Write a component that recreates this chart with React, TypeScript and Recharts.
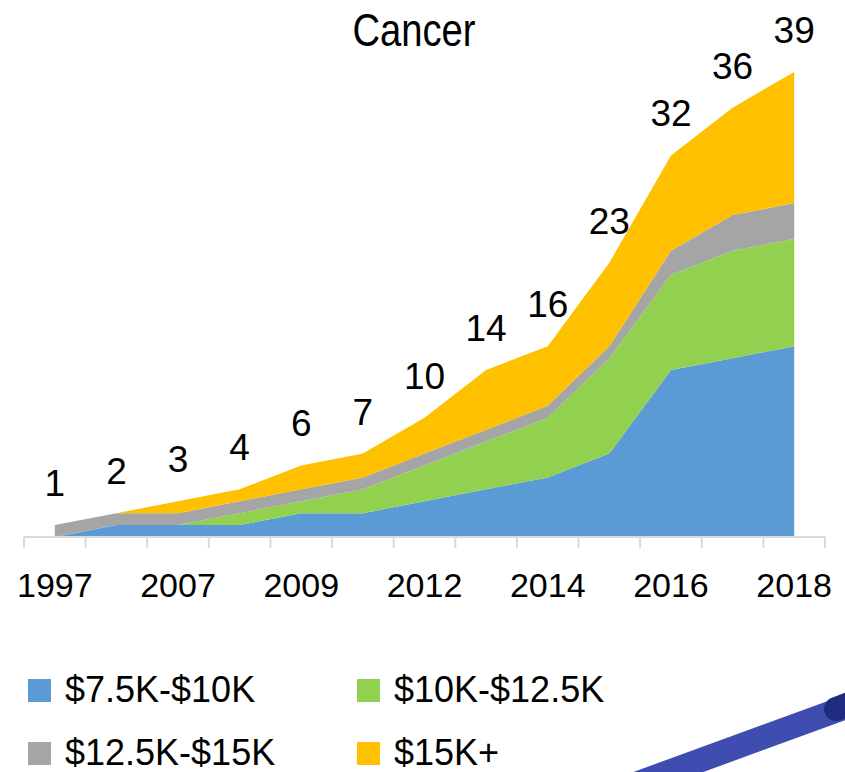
import React from 'react';
import { AreaChart, Area, XAxis, YAxis } from 'recharts';

// category index -> year (only every other one is labelled on the axis)
const years = ['1997', '2004', '2007', '2008', '2009', '2011', '2012', '2013', '2014', '2015', '2016', '2017', '2018'];
const tier1 = [0, 1, 1, 1, 2, 2, 3, 4, 5, 7, 14, 15, 16];
const tier2 = [0, 0, 0, 1, 1, 2, 3, 4, 5, 8, 8, 9, 9];
const tier3 = [1, 1, 1, 1, 1, 1, 1, 1, 1, 1, 2, 3, 3];
const tier4 = [0, 0, 1, 1, 2, 2, 3, 5, 5, 7, 8, 9, 11];
const totals = [1, 2, 3, 4, 6, 7, 10, 14, 16, 23, 32, 36, 39];

const SERIES = [
  { key: 't1', name: '$7.5K-$10K', color: '#5b9bd5' },
  { key: 't2', name: '$10K-$12.5K', color: '#92d050' },
  { key: 't3', name: '$12.5K-$15K', color: '#a5a5a5' },
  { key: 't4', name: '$15K+', color: '#ffc000' },
];

const data = years.map((year, i) => ({
  x: i,
  year,
  t1: tier1[i],
  t2: tier2[i],
  t3: tier3[i],
  t4: tier4[i],
}));

// tick marks sit between categories, labels on every other category
const tickMarks = years.map((_, i) => i - 0.5).concat([years.length - 0.5]);
const labelTicks = years.map((_, i) => i).filter((i) => i % 2 === 0);
const allTicks = [...tickMarks, ...labelTicks];

const FONT = '"Liberation Sans", Arial, sans-serif';

const AxisTick = (props: any) => {
  const { x, y, payload } = props;
  const v = payload.value;
  if (Number.isInteger(v)) {
    return (
      <text x={x} y={y + 52} textAnchor="middle" fontSize={34} fontFamily={FONT} fill="#000">
        {years[v]}
      </text>
    );
  }
  return <line x1={x} x2={x} y1={y - 8} y2={y + 3} stroke="#d9d9d9" strokeWidth={2} />;
};

const TotalLabel = (props: any) => {
  const { x, y, index } = props;
  return (
    <text x={x} y={y - 29} textAnchor="middle" fontSize={37} fontFamily={FONT} fill="#000">
      {totals[index]}
    </text>
  );
};

const App: React.FC = () => {
  return (
    <div style={{ position: 'absolute', left: 0, top: 0, width: 845, height: 772, background: '#fff', overflow: 'hidden' }}>
      <div
        style={{
          position: 'absolute',
          left: 0,
          width: 828,
          top: 4,
          textAlign: 'center',
          fontFamily: FONT,
          fontSize: 46,
          lineHeight: '52px',
          color: '#000',
          transform: 'scaleX(0.83)',
          transformOrigin: '414px 0',
        }}
      >
        Cancer
      </div>

      <div style={{ position: 'absolute', left: 0, top: 0 }}>
        <AreaChart width={845} height={620} data={data} margin={{ top: 60, right: 20, bottom: 0, left: 24 }}>
          <XAxis
            dataKey="x"
            type="number"
            domain={[-0.5, years.length - 0.5]}
            ticks={allTicks}
            interval={0}
            tick={<AxisTick />}
            tickLine={false}
            axisLine={{ stroke: '#d9d9d9', strokeWidth: 2 }}
            height={83}
          />
          <YAxis hide domain={[0, 40]} />
          {SERIES.map((s, i) => (
            <Area
              key={s.key}
              type="linear"
              dataKey={s.key}
              name={s.name}
              stackId="a"
              fill={s.color}
              fillOpacity={1}
              stroke="none"
              isAnimationActive={false}
              label={i === SERIES.length - 1 ? <TotalLabel /> : undefined}
            />
          ))}
        </AreaChart>
      </div>

      {SERIES.map((s, i) => {
        const col = i % 2;
        const row = Math.floor(i / 2);
        return (
          <div
            key={s.key}
            style={{
              position: 'absolute',
              left: col === 0 ? 28 : 357,
              top: row === 0 ? 671 : 734,
              height: 38,
              display: 'flex',
              alignItems: 'center',
              fontFamily: FONT,
              fontSize: 36,
              color: '#000',
              whiteSpace: 'nowrap',
            }}
          >
            <span style={{ display: 'inline-block', width: 23, height: 23, background: s.color, marginRight: 14 }} />
            {s.name}
          </div>
        );
      })}

      <svg style={{ position: 'absolute', left: 0, top: 0 }} width={845} height={772}>
        <line x1={630} y1={786} x2={860} y2={702} stroke="#3f4db0" strokeWidth={24} />
        <line x1={836} y1={709} x2={860} y2={700} stroke="#1f2b80" strokeWidth={24} strokeLinecap="round" />
      </svg>
    </div>
  );
};

export default App;
